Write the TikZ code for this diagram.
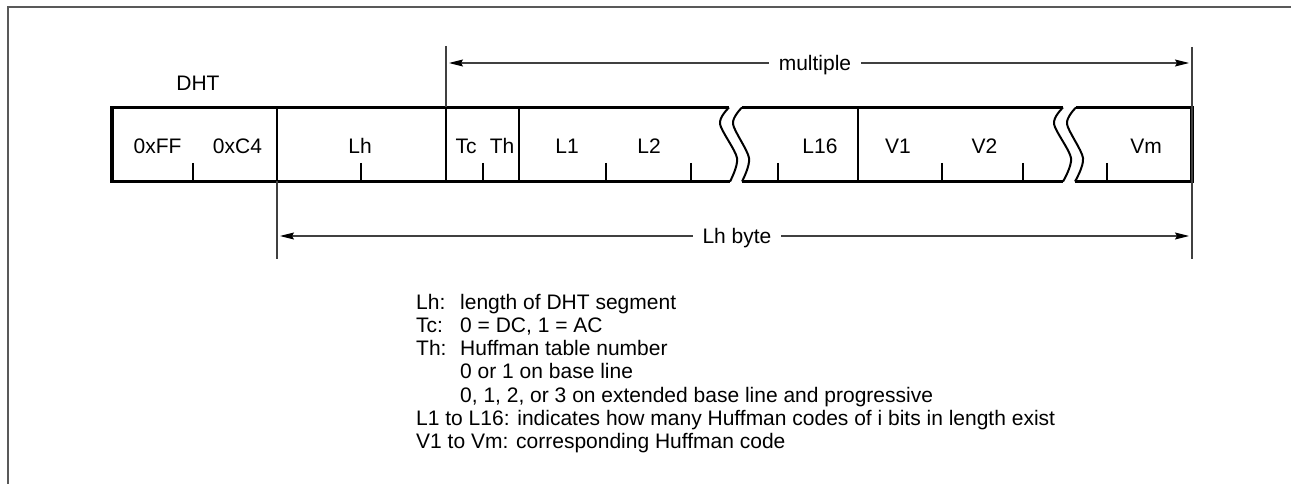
\documentclass[tikz,border=0pt]{standalone}
\usepackage{fontspec}
\setmainfont{Liberation Sans}
\usetikzlibrary{arrows.meta}
\begin{document}
\begin{tikzpicture}[x=1pt,y=-1pt,
  every node/.style={font=\fontsize{21}{23.3}\selectfont},
  barline/.style={line width=3.5pt},
  divider/.style={line width=2pt},
  tick/.style={line width=1.6pt},
  brk/.style={line width=2pt},
  dimline/.style={line width=1.2pt, black!75},
  dimarrow/.style={line width=1.2pt, black!75, {Stealth[length=14pt,width=7pt,inset=2pt,black]}-{Stealth[length=14pt,width=7pt,inset=2pt,black]}, shorten <=3pt, shorten >=3pt},
  lbl/.style={anchor=base, inner sep=0pt},
  dimlbl/.style={anchor=base, fill=white, inner xsep=10pt, inner ysep=2pt},
  leg/.style={anchor=base west, inner sep=0pt},
  frame/.style={line width=1.6pt, black!65}
]
\useasboundingbox (0,0) rectangle (1291,484);
% frame
\draw[frame] (8,484) -- (8,7) -- (1291,7);

% bar outline
\draw[barline] (729,107.5) -- (112,107.5) -- (112,181.5) -- (730,181.5);
\draw[barline] (742,107.5) -- (1063,107.5);
\draw[barline] (742,181.5) -- (1063,181.5);
\draw[barline] (1076,107.5) -- (1192,107.5) -- (1192,181.5) -- (1075,181.5);

% breaks
\draw[brk] plot[smooth] coordinates {(729,107.5) (720,124) (737,158) (730,181.5)};
\draw[brk] plot[smooth] coordinates {(742,107.5) (733,124) (749,158) (742,181.5)};
\draw[brk] plot[smooth] coordinates {(1063,107.5) (1054,124) (1071,158) (1063,181.5)};
\draw[brk] plot[smooth] coordinates {(1076,107.5) (1067,124) (1083,158) (1075,181.5)};

% dividers
\foreach \x in {277,446,519,858} \draw[divider] (\x,107.5) -- (\x,181.5);

% ticks
\foreach \x in {193,361,483,606,691,778,942,1023,1107} \draw[tick] (\x,163) -- (\x,181.5);

% labels in bar
\node[lbl] (dht) at (198,91) {DHT};
\node[lbl] (ff) at (157.5,154) {0xFF};
\node[lbl] (c4) at (237.5,154) {0xC4};
\node[lbl] (lh) at (360,154) {Lh};
\node[lbl] (tc) at (466,154) {Tc};
\node[lbl] (th) at (502,154) {Th};
\node[lbl] (la) at (567,154) {L1};
\node[lbl] (lb) at (649,154) {L2};
\node[lbl] (lp) at (820,154) {L16};
\node[lbl] (va) at (898,154) {V1};
\node[lbl] (vb) at (984.5,154) {V2};
\node[lbl] (vm) at (1146,154) {Vm};

% dimension lines
\coordinate (mtop) at (446,46);
\coordinate (mbot) at (446,107.5);
\coordinate (rtop) at (1192,47);
\coordinate (rbot) at (1192,259);
\coordinate (ltop) at (277,181.5);
\coordinate (lbot) at (277,259);
\draw[dimline] (mtop) -- (mbot);
\draw[dimline] (rtop) -- (rbot);
\draw[dimline] (ltop) -- (lbot);
\coordinate (ma) at (446,63);
\coordinate (mb) at (1192,63);
\coordinate (la1) at (277,236);
\coordinate (lb1) at (1192,236);
\draw[dimarrow] (ma) -- (mb);
\draw[dimarrow] (la1) -- (lb1);
\node[dimlbl] (mul) at (815,70.5) {multiple};
\node[dimlbl] (lhb) at (737,243.5) {Lh byte};

% legend
\node[leg] (g1) at (416,309) {\makebox[44pt][l]{Lh:}length of DHT segment};
\node[leg] (g2) at (416,332.3) {\makebox[44pt][l]{Tc:}0 = DC, 1 = AC};
\node[leg] (g3) at (416,355.6) {\makebox[44pt][l]{Th:}Huffman table number};
\node[leg] (g4) at (460,378.9) {0 or 1 on base line};
\node[leg] (g5) at (460,402.2) {0, 1, 2, or 3 on extended base line and progressive};
\node[leg] (g6) at (416,425.5) {L1 to L16: indicates how many Huffman codes of i bits in length exist};
\node[leg] (g7) at (416,448.8) {V1 to Vm: corresponding Huffman code};
\end{tikzpicture}
\end{document}
